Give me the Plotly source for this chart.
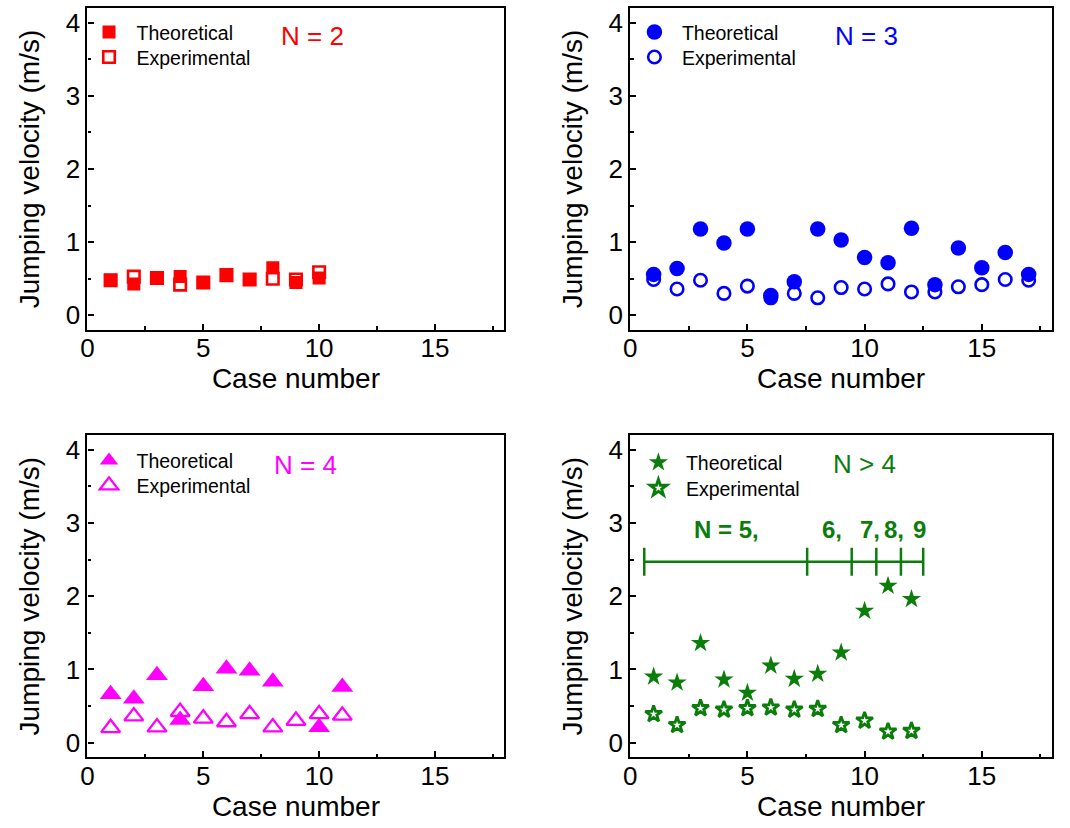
import plotly.graph_objects as go

# ---------------- data ----------------
n2_case = [1, 2, 3, 4, 5, 6, 7, 8, 9, 10]
n2_theo = [0.48, 0.43, 0.51, 0.53, 0.45, 0.55, 0.49, 0.65, 0.45, 0.51]
n2_exp = [0.48, 0.53, 0.51, 0.42, 0.45, 0.55, 0.49, 0.50, 0.49, 0.59]

n3_case = list(range(1, 18))
n3_theo = [0.56, 0.64, 1.18, 0.99, 1.18, 0.27, 0.46, 1.18, 1.03, 0.79, 0.72, 1.19, 0.42, 0.92, 0.65, 0.86, 0.56]
n3_exp = [0.49, 0.36, 0.48, 0.30, 0.40, 0.24, 0.30, 0.24, 0.38, 0.36, 0.43, 0.32, 0.32, 0.39, 0.42, 0.49, 0.48]

n4_theo_case = [1, 2, 3, 4, 5, 6, 7, 8, 10, 11]
n4_theo = [0.66, 0.60, 0.92, 0.31, 0.77, 1.01, 0.98, 0.83, 0.21, 0.76]
n4_exp_case = [1, 2, 3, 4, 5, 6, 7, 8, 9, 10, 11]
n4_exp = [0.20, 0.36, 0.21, 0.42, 0.33, 0.28, 0.39, 0.21, 0.30, 0.39, 0.37]

n5_case = list(range(1, 13))
n5_theo = [0.90, 0.82, 1.36, 0.86, 0.68, 1.05, 0.87, 0.94, 1.23, 1.80, 2.14, 1.96]
n5_exp = [0.39, 0.24, 0.47, 0.45, 0.47, 0.48, 0.45, 0.46, 0.24, 0.30, 0.15, 0.16]

# group bracket in the N > 4 panel
bracket_edges = [0.6, 7.55, 9.45, 10.5, 11.55, 12.5]
bracket_level = 2.47
bracket_half = 0.19
bracket_labels = ["N = 5,", "6,", "7,", "8,", "9"]
bracket_label_x = [4.1, 8.62, 10.21, 11.25, 12.36]
bracket_label_y = 2.91

panel_titles = ["N = 2", "N = 3", "N = 4", "N > 4"]
series_names = ["Theoretical", "Experimental"]
x_ticks = [0, 5, 10, 15]
y_ticks = [0, 1, 2, 3, 4]

RED, BLUE, MAG, GREEN = "#ff0000", "#0000ff", "#ff00ff", "#0a7d0a"
FONT = "Arial, Liberation Sans, sans-serif"

fig = go.Figure()

def add_pair(case_t, theo, case_e, exp, sym, col, ax, size_f, size_o, lw):
    sfx = "" if ax == 1 else str(ax)
    fig.add_trace(go.Scatter(x=case_t, y=theo, mode="markers", name=series_names[0],
                             xaxis="x" + sfx, yaxis="y" + sfx,
                             legend="legend" + ("" if ax == 1 else str(2 * ax - 1)),
                             marker=dict(symbol=sym, size=size_f, color=col, line=dict(width=0))))
    fig.add_trace(go.Scatter(x=case_e, y=exp, mode="markers", name=series_names[1],
                             xaxis="x" + sfx, yaxis="y" + sfx,
                             legend="legend" + str(2 * ax),
                             marker=dict(symbol=sym + "-open", size=size_o, color=col,
                                         line=dict(width=lw, color=col))))

add_pair(n2_case, n2_theo, n2_case, n2_exp, "square", RED, 1, 13, 11.5, 2.6)
add_pair(n3_case, n3_theo, n3_case, n3_exp, "circle", BLUE, 2, 15.5, 12.5, 2.6)
add_pair(n4_theo_case, n4_theo, n4_exp_case, n4_exp, "triangle-up", MAG, 3, 19, 16.5, 2.3)
add_pair(n5_case, n5_theo, n5_case, n5_exp, "star", GREEN, 4, 14.5, 12.5, 2.8)

# bracket line with ticks
bx, by = [bracket_edges[0], bracket_edges[-1], None], [bracket_level, bracket_level, None]
for e in bracket_edges:
    bx += [e, e, None]
    by += [bracket_level - bracket_half, bracket_level + bracket_half, None]
fig.add_trace(go.Scatter(x=bx, y=by, mode="lines", xaxis="x4", yaxis="y4", showlegend=False,
                         line=dict(color=GREEN, width=2.5), hoverinfo="skip"))

# layout
W, H = 1070, 828
col_x = [(81, 500.7), (627.3, 1052)]
row_y = [(8, 330), (435, 757.3)]

def dom_x(c):
    return [col_x[c][0] / W, col_x[c][1] / W]

def dom_y(r):
    return [1 - row_y[r][1] / H, 1 - row_y[r][0] / H]

axis_common = dict(showline=True, linecolor="black", linewidth=2.2, mirror=True,
                   ticks="inside", ticklen=6, tickwidth=2, tickcolor="black",
                   showgrid=False, zeroline=False,
                   tickfont=dict(family=FONT, size=26, color="black"))

layout = dict(width=W, height=H, margin=dict(l=0, r=0, t=0, b=0),
              plot_bgcolor="white", paper_bgcolor="white", showlegend=True,
              font=dict(family=FONT, color="black"))

# legend entry anchor (x of legend box, y of row centre) per panel
legend_x = [75, 624, 75, 628]
legend_rows = [(32.3, 57.3), (32.3, 57.3), (460.7, 485.7), (462.7, 488.3)]
for i in range(4):
    r, c = divmod(i, 2)
    sfx = "" if i == 0 else str(i + 1)
    layout["xaxis" + sfx] = dict(axis_common, domain=dom_x(c), range=[0, 18],
                                 tickvals=x_ticks, anchor="y" + sfx, ticklabelstandoff=-6,
                                 minor=dict(dtick=2.5, tick0=0, ticks="inside", ticklen=3.5,
                                            tickwidth=2, tickcolor="black"),
                                 title=dict(text="Case number", font=dict(family=FONT, size=28),
                                            standoff=4))
    layout["yaxis" + sfx] = dict(axis_common, domain=dom_y(r), range=[-0.2, 4.2],
                                 tickvals=y_ticks, anchor="x" + sfx,
                                 minor=dict(dtick=0.5, tick0=0, ticks="inside", ticklen=3.5,
                                            tickwidth=2, tickcolor="black"),
                                 title=dict(text="Jumping velocity (m/s)",
                                            font=dict(family=FONT, size=28), standoff=18))
    for k in range(2):
        n = 2 * i + k + 1
        key = "legend" + ("" if n == 1 else str(n))
        layout[key] = dict(x=legend_x[i] / W, y=1 - legend_rows[i][k] / H,
                           xanchor="left", yanchor="middle",
                           bgcolor="rgba(0,0,0,0)", borderwidth=0, itemwidth=45,
                           font=dict(family=FONT, size=19.5, color="black"),
                           itemclick=False)

fig.update_layout(**layout)

title_pos = [(9.72, 3.82), (10.1, 3.82), (9.4, 3.79), (10.0, 3.81)]
title_col = [RED, BLUE, MAG, GREEN]
for i in range(4):
    sfx = "" if i == 0 else str(i + 1)
    fig.add_annotation(x=title_pos[i][0], y=title_pos[i][1], xref="x" + sfx, yref="y" + sfx,
                       text=panel_titles[i], showarrow=False,
                       font=dict(family=FONT, size=26, color=title_col[i]))

for t, x in zip(bracket_labels, bracket_label_x):
    fig.add_annotation(x=x, y=bracket_label_y, xref="x4", yref="y4", text="<b>%s</b>" % t,
                       showarrow=False, font=dict(family=FONT, size=24, color=GREEN))

fig.write_html("out.html")
